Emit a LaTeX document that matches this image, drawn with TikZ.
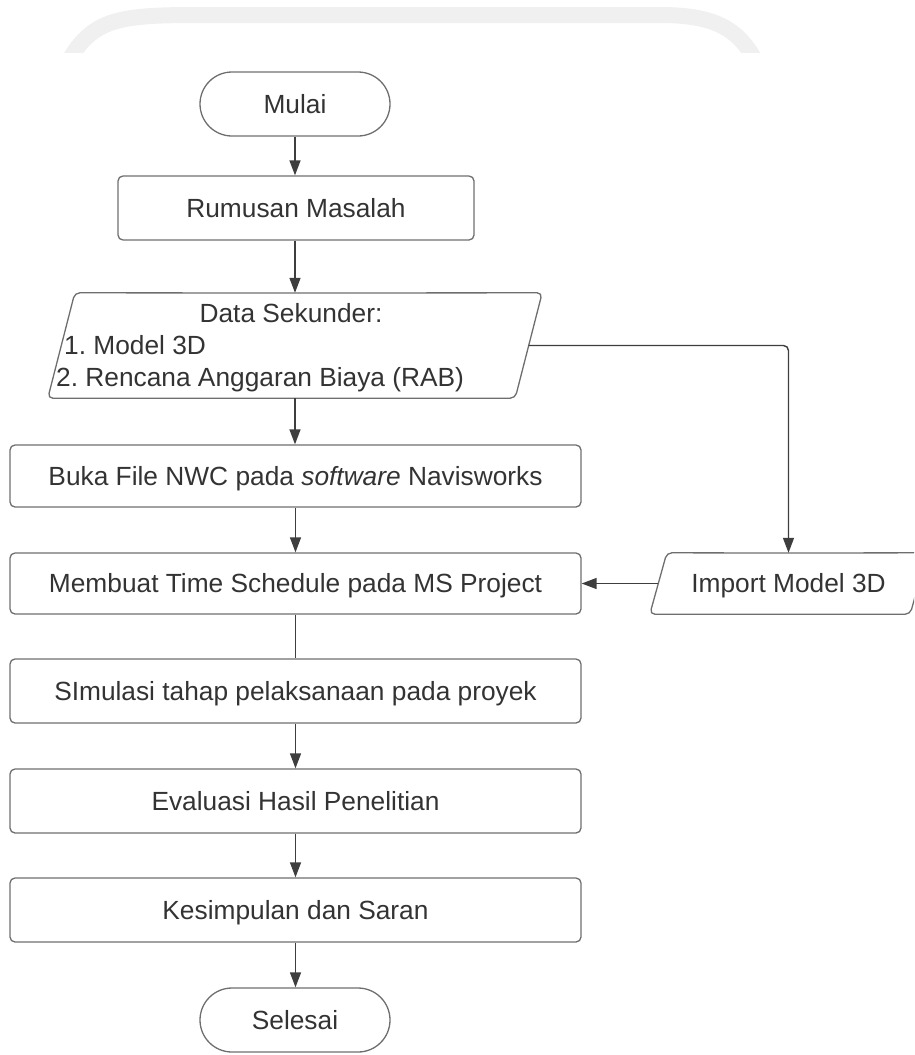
\documentclass[tikz,border=0pt]{standalone}
\usepackage{fontspec}
\setmainfont{Liberation Sans}
\usetikzlibrary{shapes.misc,arrows.meta}
\definecolor{txtc}{HTML}{333333}
\definecolor{boxc}{HTML}{6E6E6E}
\definecolor{arrc}{HTML}{3E3E3E}
\definecolor{wmc}{HTML}{F0F0F0}
\newcommand\diagfont{\fontsize{26.3}{32}\selectfont\frenchspacing}
\tikzset{
  lbl/.style={font=\diagfont, text=txtc, inner sep=0pt},
  box/.style={lbl, draw=boxc, line width=1.3pt, rounded corners=5pt,
    minimum width=571pt, text height=18.8pt, text depth=0pt},
  term/.style={lbl, draw=boxc, line width=1.3pt, rounded rectangle,
    minimum width=190pt, minimum height=64pt, text height=18.8pt, text depth=0pt},
  ghost/.style={lbl, draw=none, text height=18.8pt, text depth=0pt},
  outline/.style={draw=boxc, line width=1.3pt, rounded corners=5pt},
  conn/.style={draw=arrc, line width=1.4pt},
  arr/.style={conn, -{Triangle[length=15pt, width=11pt]}}
}
\begin{document}
\begin{tikzpicture}[x=1pt, y=-1pt]
\useasboundingbox (0,0) rectangle (914,1055);
\clip (0,0) rectangle (914,1055);
% faint watermark band
\begin{scope}
\clip (0,0) rectangle (914,52);
\draw[line width=16pt, draw=wmc] (68,62) .. controls (93,18) and (120,15) .. (200,15) -- (660,15) .. controls (712,15) and (738,27) .. (756,62);
\end{scope}
% nodes
\node[term] (mulai) at (295,104) {Mulai};
\node[box, minimum width=356pt, minimum height=64pt] (rumusan) at (296,208) {Rumusan Masalah};
\node[ghost, minimum width=467pt, minimum height=105pt] (data) at (295,345.5) {};
\draw[outline] (300,293) -- ([xshift=13.5pt]data.north east) -- ([xshift=-13.5pt]data.south east)
  -- ([xshift=-13.5pt]data.south west) -- ([xshift=13.5pt]data.north west) -- cycle;
\node[lbl, anchor=base] (dt1) at (291,322.5) {Data Sekunder:};
\node[lbl, anchor=base west] (dt2) at (64,354.5) {1. Model 3D};
\node[lbl, anchor=base west] (dt3) at (56,386.5) {2. Rencana Anggaran Biaya (RAB)};
\node[box, minimum height=62pt] (buka) at (295.5,476) {Buka File NWC pada \textit{software} Navisworks};
\node[box, minimum height=61pt] (membuat) at (295.5,583.5) {Membuat Time Schedule pada MS Project};
\node[ghost, minimum width=260pt, minimum height=61pt] (import) at (788.5,583.5) {Import Model 3D};
\draw[outline] (790,553) -- ([xshift=8.5pt]import.north east) -- ([xshift=-8.5pt]import.south east)
  -- ([xshift=-8.5pt]import.south west) -- ([xshift=8.5pt]import.north west) -- cycle;
\node[box, minimum height=64pt] (simulasi) at (295.5,691) {SImulasi tahap pelaksanaan pada proyek};
\node[box, minimum height=64pt] (evaluasi) at (295.5,801) {Evaluasi Hasil Penelitian};
\node[box, minimum height=64pt] (kesimpulan) at (295.5,910) {Kesimpulan dan Saran};
\node[term] (selesai) at (295,1020) {Selesai};
% connectors
\draw[arr] (mulai.south) -- (mulai.south |- rumusan.north);
\draw[arr] (rumusan.south -| data.north) -- (data.north);
\draw[arr] (data.south) -- (data.south |- buka.north);
\draw[arr] (buka.south) -- (membuat.north);
\draw[conn] (membuat.south) -- (simulasi.north);
\draw[arr] (simulasi.south) -- (evaluasi.north);
\draw[arr] (evaluasi.south) -- (kesimpulan.north);
\draw[arr] (kesimpulan.south) -- (kesimpulan.south |- selesai.north);
\draw[arr, rounded corners=5pt] (data.east) -| (import.north);
\draw[arr] (import.west) -- (membuat.east);
\end{tikzpicture}
\end{document}
